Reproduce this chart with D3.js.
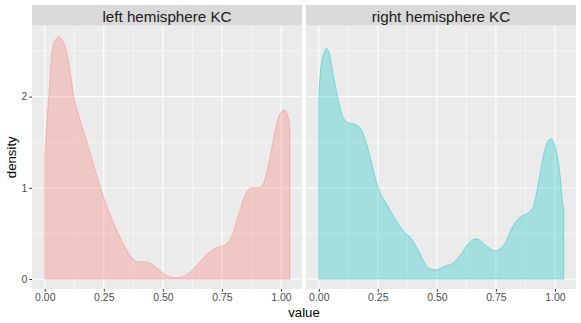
<!DOCTYPE html>
<html>
<head>
<meta charset="utf-8">
<script src="https://cdn.jsdelivr.net/npm/d3@7"></script>
<style>
  body { margin: 0; background: #fff; }
  svg { display: block; font-family: "Liberation Sans", Arial, sans-serif; }
</style>
</head>
<body>
<div id="chart"></div>
<script>
// density curves
const leftValue = [0, 0.01, 0.02, 0.031, 0.045, 0.06, 0.075, 0.092, 0.108, 0.123, 0.15, 0.179, 0.207, 0.236, 0.262, 0.287, 0.311, 0.34, 0.37, 0.39, 0.43, 0.455, 0.483, 0.517, 0.559, 0.594, 0.63, 0.665, 0.70, 0.736, 0.764, 0.797, 0.82, 0.849, 0.873, 0.905, 0.926, 0.947, 0.966, 0.99, 1.014, 1.027, 1.037];
const leftDensity = [1.36, 1.75, 2.1, 2.5, 2.62, 2.655, 2.61, 2.5, 2.26, 2.0, 1.74, 1.5, 1.25, 1.0, 0.8, 0.64, 0.5, 0.35, 0.23, 0.19, 0.187, 0.16, 0.10, 0.036, 0.013, 0.036, 0.11, 0.21, 0.30, 0.35, 0.375, 0.5, 0.70, 0.92, 1.0, 1.0, 1.05, 1.25, 1.5, 1.78, 1.853, 1.8, 1.7];

const rightValue = [0, 0.007, 0.021, 0.033, 0.045, 0.059, 0.078, 0.099, 0.12, 0.148, 0.177, 0.198, 0.219, 0.24, 0.261, 0.29, 0.325, 0.36, 0.396, 0.424, 0.452, 0.473, 0.495, 0.528, 0.571, 0.599, 0.634, 0.669, 0.705, 0.747, 0.783, 0.818, 0.853, 0.889, 0.91, 0.931, 0.952, 0.97, 0.983, 1.001, 1.02, 1.034, 1.037];
const rightDensity = [2.0, 2.27, 2.47, 2.53, 2.47, 2.27, 2.02, 1.80, 1.72, 1.70, 1.65, 1.52, 1.32, 1.10, 0.94, 0.81, 0.65, 0.52, 0.43, 0.30, 0.16, 0.106, 0.10, 0.135, 0.18, 0.26, 0.39, 0.44, 0.37, 0.31, 0.37, 0.56, 0.68, 0.73, 0.81, 1.07, 1.36, 1.51, 1.535, 1.45, 1.18, 0.81, 0.78];

const panelNames = ["left hemisphere KC", "right hemisphere KC"];
const panelColors = ["#F8766D", "#00BFC4"];
const xTicks = [0, 0.25, 0.5, 0.75, 1];
const xMinor = [0.125, 0.375, 0.625, 0.875];
const yTicks = [0, 1, 2];
const yMinor = [0.5, 1.5, 2.5];

const width = 581, height = 323;
const panelTop = 25.5, panelBottom = 289, stripTop = 5;
const panelLefts = [32, 306];
const panelW = 270;

const svg = d3.select("#chart").append("svg")
    .attr("width", width)
    .attr("height", height);

const y = d3.scaleLinear([-0.11, 2.78], [panelBottom, panelTop]);

const series = [
    leftValue.map((v, i) => [v, leftDensity[i]]),
    rightValue.map((v, i) => [v, rightDensity[i]])
];

panelNames.forEach(function(name, p) {
    const x0 = panelLefts[p];
    const x = d3.scaleLinear([-0.054, 1.089], [x0, x0 + panelW]);
    const g = svg.append("g");

    g.append("rect")
        .attr("x", x0).attr("y", panelTop)
        .attr("width", panelW).attr("height", panelBottom - panelTop)
        .attr("fill", "#EBEBEB");

    // minor grid
    g.selectAll(".xminor").data(xMinor).join("line")
        .attr("x1", d => x(d)).attr("x2", d => x(d))
        .attr("y1", panelTop).attr("y2", panelBottom)
        .attr("stroke", "#fff").attr("stroke-width", 0.5);
    g.selectAll(".yminor").data(yMinor).join("line")
        .attr("x1", x0).attr("x2", x0 + panelW)
        .attr("y1", d => y(d)).attr("y2", d => y(d))
        .attr("stroke", "#fff").attr("stroke-width", 0.5);
    // major grid
    g.selectAll(".xmajor").data(xTicks).join("line")
        .attr("x1", d => x(d)).attr("x2", d => x(d))
        .attr("y1", panelTop).attr("y2", panelBottom)
        .attr("stroke", "#fff").attr("stroke-width", 1.1);
    g.selectAll(".ymajor").data(yTicks).join("line")
        .attr("x1", x0).attr("x2", x0 + panelW)
        .attr("y1", d => y(d)).attr("y2", d => y(d))
        .attr("stroke", "#fff").attr("stroke-width", 1.1);

    const area = d3.area()
        .x(d => x(d[0]))
        .y0(y(0))
        .y1(d => y(d[1]))
        .curve(d3.curveMonotoneX);

    g.append("path")
        .attr("d", area(series[p]))
        .attr("fill", panelColors[p])
        .attr("fill-opacity", 0.3)
        .attr("stroke", panelColors[p])
        .attr("stroke-opacity", 0.45)
        .attr("stroke-width", 0.9);

    // strip
    g.append("rect")
        .attr("x", x0).attr("y", stripTop)
        .attr("width", panelW).attr("height", panelTop - stripTop)
        .attr("fill", "#D9D9D9");
    g.append("text")
        .attr("x", x0 + panelW / 2).attr("y", 21.5)
        .attr("text-anchor", "middle")
        .attr("font-size", 15.2)
        .attr("fill", "#1A1A1A")
        .text(name);

    const xAxis = g.append("g")
        .attr("transform", `translate(0,${panelBottom})`)
        .call(d3.axisBottom(x).tickValues(xTicks).tickFormat(d3.format(".2f"))
            .tickSize(2.7).tickPadding(2));
    xAxis.select(".domain").remove();
    xAxis.selectAll("line").attr("stroke", "#333333");
    xAxis.selectAll("text").attr("fill", "#4D4D4D").attr("font-size", 10.5)
        .attr("font-family", "Liberation Sans, Arial, sans-serif");

    if (p === 0) {
        const yAxis = g.append("g")
            .attr("transform", `translate(${x0},0)`)
            .call(d3.axisLeft(y).tickValues(yTicks).tickFormat(d3.format("d"))
                .tickSize(2.7).tickPadding(2));
        yAxis.select(".domain").remove();
        yAxis.selectAll("line").attr("stroke", "#333333");
        yAxis.selectAll("text").attr("fill", "#4D4D4D").attr("font-size", 10.5)
            .attr("font-family", "Liberation Sans, Arial, sans-serif");
    }
});

svg.append("text")
    .attr("x", (panelLefts[0] + panelLefts[1] + panelW) / 2)
    .attr("y", 317)
    .attr("text-anchor", "middle")
    .attr("font-size", 13.2)
    .attr("fill", "#000")
    .text("value");

svg.append("text")
    .attr("transform", `translate(16,${(panelTop + panelBottom) / 2}) rotate(-90)`)
    .attr("text-anchor", "middle")
    .attr("font-size", 13.2)
    .attr("fill", "#000")
    .text("density");
</script>
</body>
</html>
